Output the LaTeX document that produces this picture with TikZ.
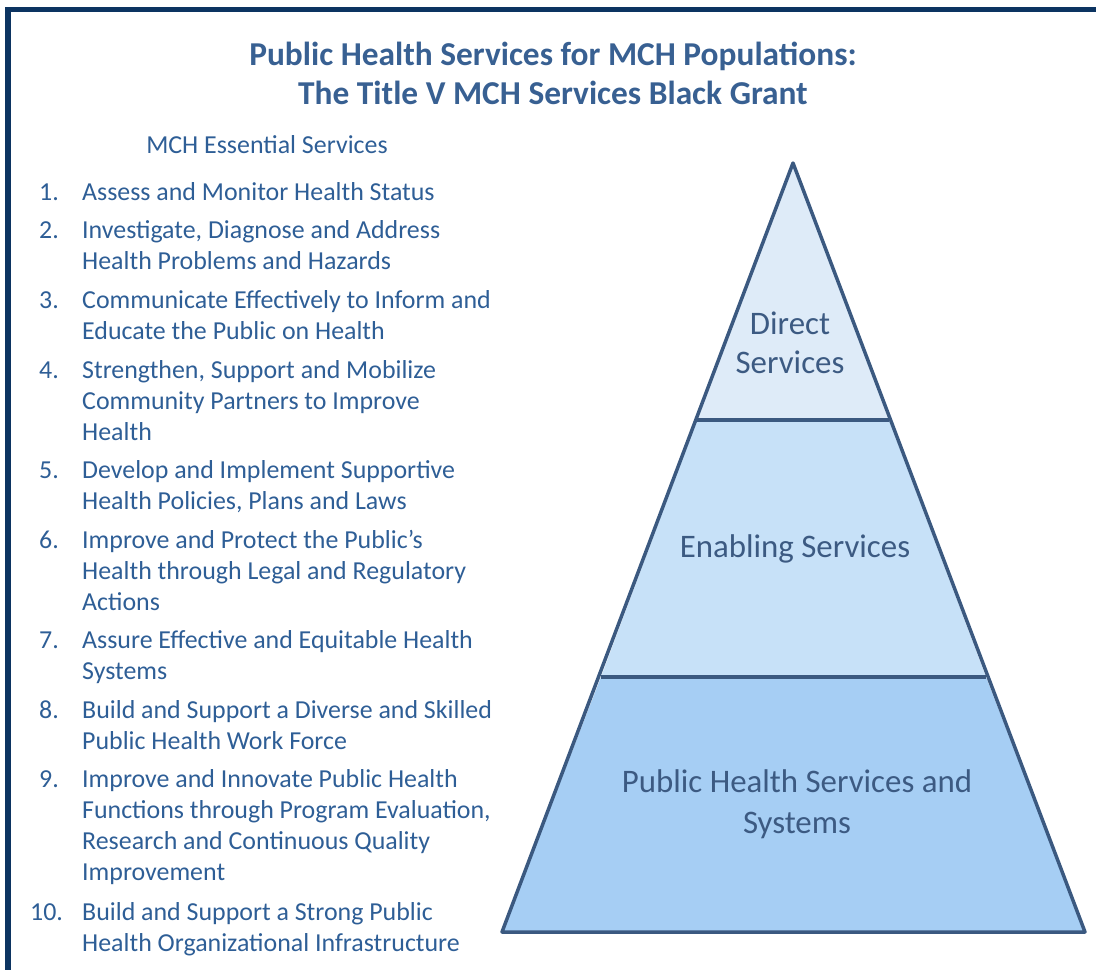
\documentclass[tikz,border=0pt]{standalone}
\usepackage{fontspec}
\setmainfont{Carlito}
\definecolor{frame}{HTML}{0C3461}
\definecolor{titlec}{HTML}{386092}
\definecolor{listc}{HTML}{2E5E96}
\definecolor{pyrtext}{HTML}{3C5A82}
\definecolor{pyrline}{HTML}{3B5980}
\definecolor{fillA}{HTML}{DEEBF8}
\definecolor{fillB}{HTML}{C7E1F8}
\definecolor{fillC}{HTML}{A6CEF4}
\tikzset{
  titletext/.style={font=\fontsize{33.5}{39}\selectfont\bfseries, text=titlec, align=center, inner sep=0pt},
  listnum/.style={font=\fontsize{26}{31}\selectfont, text=listc, anchor=base west, inner sep=0pt},
  listitem/.style={font=\fontsize{26}{31}\selectfont, text=listc, anchor=base west, align=left, inner sep=0pt},
  pyrlabel/.style={text=pyrtext, align=center, inner sep=0pt},
  layer/.style={draw=pyrline, line width=3.5pt, line join=round},
}
\begin{document}
\begin{tikzpicture}[x=1bp,y=-1bp]
\useasboundingbox (0,0) rectangle (1096,970);
% frame
\draw[frame, line width=5.5bp] (8,975) -- (8,9.5) -- (1100,9.5);
% title
\node[titletext] (title) at (553,73.5) {Public Health Services for MCH Populations:\\The Title V MCH Services Black Grant};
% list heading
\node[font=\fontsize{26}{31}\selectfont, text=listc, anchor=base, inner sep=0pt] (head) at (267,153) {MCH Essential Services};
% items (anchored at the baseline of their last line)
\node[listnum] (n1) at (39,200) {1.};
\node[listitem] (i1) at (82,200) {Assess and Monitor Health Status};
\node[listnum] (n2) at (39,238) {2.};
\node[listitem] (i2) at (82,269) {Investigate, Diagnose and Address\\Health Problems and Hazards};
\node[listnum] (n3) at (39,308) {3.};
\node[listitem] (i3) at (82,339) {Communicate Effectively to Inform and\\Educate the Public on Health};
\node[listnum] (n4) at (39,378) {4.};
\node[listitem] (i4) at (82,440) {Strengthen, Support and Mobilize\\Community Partners to Improve\\Health};
\node[listnum] (n5) at (39,478) {5.};
\node[listitem] (i5) at (82,509) {Develop and Implement Supportive\\Health Policies, Plans and Laws};
\node[listnum] (n6) at (39,548) {6.};
\node[listitem] (i6) at (82,610) {Improve and Protect the Public’s\\Health through Legal and Regulatory\\Actions};
\node[listnum] (n7) at (39,648) {7.};
\node[listitem] (i7) at (82,679) {Assure Effective and Equitable Health\\Systems};
\node[listnum] (n8) at (39,718) {8.};
\node[listitem] (i8) at (82,749) {Build and Support a Diverse and Skilled\\Public Health Work Force};
\node[listnum] (n9) at (39,787) {9.};
\node[listitem] (i9) at (82,880) {Improve and Innovate Public Health\\Functions through Program Evaluation,\\Research and Continuous Quality\\Improvement};
\node[listnum] (n10) at (30,920) {10.};
\node[listitem] (i10) at (82,951) {Build and Support a Strong Public\\Health Organizational Infrastructure};
% pyramid
\coordinate (apex) at (793,163);
\coordinate (l1) at (697,420);
\coordinate (r1) at (889,420);
\coordinate (l2) at (601,677);
\coordinate (r2) at (986,677);
\coordinate (bl) at (502,932);
\coordinate (br) at (1085,932);
\fill[fillC] (l2) -- (r2) -- (br) -- (bl) -- cycle;
\fill[fillB] (l1) -- (r1) -- (r2) -- (l2) -- cycle;
\fill[fillA] (apex) -- (r1) -- (l1) -- cycle;
\draw[layer] (apex) -- (br) -- (bl) -- cycle;
\draw[layer] (l1) -- (r1);
\draw[layer] (l2) -- (r2);
\node[pyrlabel, font=\fontsize{33}{39}\selectfont] (direct) at (790,343) {Direct\\Services};
\node[pyrlabel, font=\fontsize{33}{39}\selectfont] (enabling) at (795,549) {Enabling Services};
\node[pyrlabel, font=\fontsize{33}{41}\selectfont] (phs) at (797,804) {Public Health Services and\\Systems};
\end{tikzpicture}
\end{document}
